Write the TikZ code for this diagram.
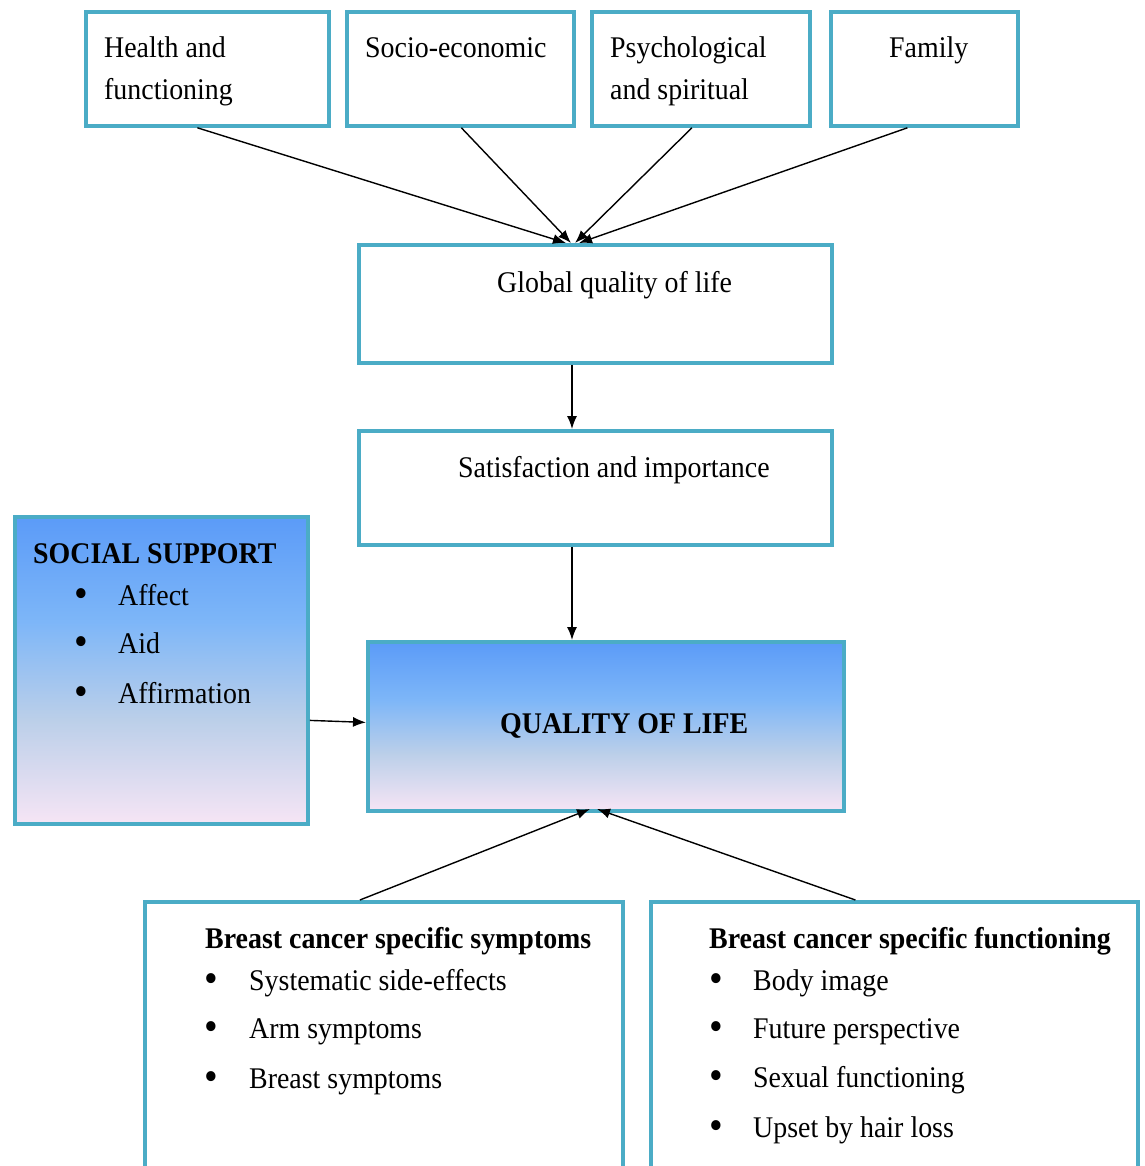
\documentclass[tikz,border=0pt]{standalone}
\usepackage{fontspec}
\setmainfont{Liberation Serif}[FakeStretch=0.93]
\usetikzlibrary{arrows.meta}
\definecolor{frame}{HTML}{4BACC6}
\definecolor{gtop}{HTML}{5B9BF8}
\definecolor{gmida}{HTML}{7DB6F8}
\definecolor{gmidb}{HTML}{BBCFE9}
\definecolor{gbot}{HTML}{F6E5F5}
\pgfdeclareverticalshading{qolshade}{100bp}{color(0bp)=(gbot); color(25bp)=(gbot); color(42bp)=(gmidb); color(58bp)=(gmida); color(75bp)=(gtop); color(100bp)=(gtop)}
\tikzset{
  box/.style={draw=frame, line width=3.8pt, fill=white, inner sep=0pt, anchor=north west},
  gbox/.style={draw=frame, line width=3.8pt, inner sep=0pt, anchor=north west, shading=qolshade},
  txt/.style={anchor=base west, inner sep=0pt, font=\fontsize{30}{36}\selectfont},
  btxt/.style={txt, font=\fontsize{30}{36}\selectfont\bfseries},
  bul/.style={anchor=base west, inner sep=0pt, font=\fontsize{42}{42}\selectfont},
  conn/.style={line width=1.4pt, -{Latex[length=13pt,width=10pt]}},
}
\begin{document}
\begin{tikzpicture}[x=1pt,y=-1pt]
\useasboundingbox (0,0) rectangle (1144,1166);
% boxes
\node[box, minimum width=243pt, minimum height=114pt] (hf) at (84,10) {};
\node[box, minimum width=227pt, minimum height=114pt] (se) at (345,10) {};
\node[box, minimum width=218pt, minimum height=114pt] (ps) at (590,10) {};
\node[box, minimum width=187pt, minimum height=114pt] (fa) at (829,10) {};
\node[box, minimum width=473pt, minimum height=118pt] (gq) at (357,243) {};
\node[box, minimum width=473pt, minimum height=114pt] (si) at (357,429) {};
\node[gbox, minimum width=293pt, minimum height=307pt] (ss) at (13,515) {};
\node[gbox, minimum width=476pt, minimum height=169pt] (ql) at (366,640) {};
\node[box, minimum width=478pt, minimum height=280pt] (bs) at (143,900) {};
\node[box, minimum width=487pt, minimum height=280pt] (bf) at (649,900) {};
% texts
\node[txt] (t1) at (104,58) {Health and};
\node[txt] (t2) at (104,100) {functioning};
\node[txt] (t3) at (365,58) {Socio-economic};
\node[txt] (t4) at (610,58) {Psychological};
\node[txt] (t5) at (610,100) {and spiritual};
\node[txt] (t6) at (889,58) {Family};
\node[txt] (t7) at (497,292) {Global quality of life};
\node[txt] (t8) at (458,477) {Satisfaction and importance};
\node[btxt] (t9) at (33,563) {SOCIAL SUPPORT};
\node[bul] (b1) at (74,607) {\textbullet};
\node[txt] (t10) at (118,605) {Affect};
\node[bul] (b2) at (74,655) {\textbullet};
\node[txt] (t11) at (118,653) {Aid};
\node[bul] (b3) at (74,705) {\textbullet};
\node[txt] (t12) at (118,703) {Affirmation};
\node[btxt] (t13) at (500,733) {QUALITY OF LIFE};
\node[btxt] (t14) at (205,948) {Breast cancer specific symptoms};
\node[bul] (b4) at (204,992) {\textbullet};
\node[txt] (t15) at (249,990) {Systematic side-effects};
\node[bul] (b5) at (204,1040) {\textbullet};
\node[txt] (t16) at (249,1038) {Arm symptoms};
\node[bul] (b6) at (204,1090) {\textbullet};
\node[txt] (t17) at (249,1088) {Breast symptoms};
\node[btxt] (t18) at (709,948) {Breast cancer specific functioning};
\node[bul] (b7) at (709,992) {\textbullet};
\node[txt] (t19) at (753,990) {Body image};
\node[bul] (b8) at (709,1040) {\textbullet};
\node[txt] (t20) at (753,1038) {Future perspective};
\node[bul] (b9) at (709,1089) {\textbullet};
\node[txt] (t21) at (753,1087) {Sexual functioning};
\node[bul] (b10) at (709,1139) {\textbullet};
\node[txt] (t22) at (753,1137) {Upset by hair loss};
% connector end points
\coordinate (g1) at (566,243);
\coordinate (g2) at (571,243);
\coordinate (g3) at (575,243);
\coordinate (g4) at (579,243);
\coordinate (q1) at (590,809);
\coordinate (q2) at (597,809);
% connectors
\draw[conn] ([xshift=-10pt]hf.south) -- (g1);
\draw[conn] ([xshift=1pt]se.south) -- (g2);
\draw[conn] ([xshift=-9pt]ps.south) -- (g3);
\draw[conn] ([xshift=-17pt]fa.south) -- (g4);
\draw[conn] (gq.south -| 572,0) -- (si.north -| 572,0);
\draw[conn] (si.south -| 572,0) -- (ql.north -| 572,0);
\draw[conn] ([yshift=-50pt]ss.east) -- ([yshift=4pt]ql.west);
\draw[conn] ([xshift=-24pt]bs.north) -- (q1);
\draw[conn] ([xshift=-39pt]bf.north) -- (q2);
\end{tikzpicture}
\end{document}
